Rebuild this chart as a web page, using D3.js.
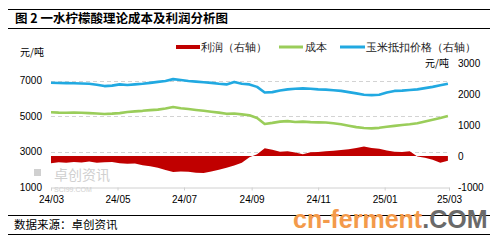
<!DOCTYPE html>
<html>
<head>
<meta charset="utf-8">
<style>
  body { margin: 0; background: #fff; }
  svg text { font-family: "Liberation Sans", Arial, sans-serif; }
  .cjk { font-family: "Noto Sans CJK SC", sans-serif; }
</style>
</head>
<body>
<svg id="chart" width="499" height="244"></svg>
<script src="https://d3js.org/d3.v7.min.js"></script>
<script>
// weekly dates
let dates = ["2024-03-01","2024-03-08","2024-03-15","2024-03-22","2024-03-29","2024-04-05","2024-04-12",
  "2024-04-19","2024-04-26","2024-05-03","2024-05-10","2024-05-17","2024-05-24","2024-05-31","2024-06-07",
  "2024-06-14","2024-06-21","2024-06-28","2024-07-05","2024-07-12","2024-07-19","2024-07-26","2024-08-02",
  "2024-08-09","2024-08-16","2024-08-23","2024-08-30","2024-09-06","2024-09-13","2024-09-20","2024-09-27",
  "2024-10-04","2024-10-11","2024-10-18","2024-10-25","2024-11-01","2024-11-08","2024-11-15","2024-11-22",
  "2024-11-29","2024-12-06","2024-12-13","2024-12-20","2024-12-27","2025-01-03","2025-01-10","2025-01-17",
  "2025-01-24","2025-01-31","2025-02-07","2025-02-14","2025-02-21","2025-02-28"]

// 利润 (right axis)
let profit = [-230,-200,-220,-190,-210,-180,-220,-200,-190,-230,-250,-240,-300,-330,-380,
  -450,-520,-500,-510,-540,-550,-500,-440,-380,-310,-220,-40,60,250,200,140,
  150,110,60,120,130,150,170,190,220,260,310,260,230,180,140,130,
  150,-20,-60,-120,-220,-150]

// 成本 (left axis)
let cost = [5220,5200,5190,5200,5190,5170,5150,5120,5140,5170,5230,5270,5300,5340,5370,
  5430,5520,5450,5400,5350,5300,5250,5200,5130,5150,5100,5050,4900,4560,4620,4690,
  4720,4670,4690,4660,4650,4640,4600,4540,4460,4380,4330,4310,4340,4400,4450,4500,
  4540,4600,4700,4800,4900,5010]

// 玉米抵扣价格 (right axis)
let corn = [2365,2355,2350,2345,2340,2330,2300,2255,2270,2310,2290,2310,2330,2360,2390,
  2420,2480,2450,2420,2400,2380,2360,2330,2310,2390,2330,2310,2230,2050,2060,2110,
  2150,2170,2180,2170,2150,2140,2120,2100,2060,2020,1975,1965,1975,2050,2100,2110,
  2130,2150,2190,2230,2280,2330]

let leftTicks = [1000, 3000, 5000, 7000]
let rightTicks = [-1000, 0, 1000, 2000, 3000]
let xTicks = ["2024-03-01","2024-05-01","2024-07-01","2024-09-01","2024-11-01","2025-01-01","2025-03-01"]

let parse = d3.timeParse("%Y-%m-%d")
let rows = dates.map((d, i) => ({date: parse(d), profit: profit[i], cost: cost[i], corn: corn[i]}))

let svg = d3.select('#chart')

let x = d3.scaleTime().domain([parse("2024-03-01"), parse("2025-03-01")]).range([51, 449])
let yL = d3.scaleLinear().domain([1000, 8000]).range([187, 63])
let yR = d3.scaleLinear().domain([-1000, 3000]).range([187, 63])

// title block
svg.append('line').attr('x1', 8).attr('x2', 490).attr('y1', 9.5).attr('y2', 9.5).attr('stroke', '#000').attr('stroke-width', 1.2)
svg.append('line').attr('x1', 8).attr('x2', 490).attr('y1', 28.5).attr('y2', 28.5).attr('stroke', '#000').attr('stroke-width', 1.2)
svg.append('text').attr('class', 'cjk').attr('x', 15).attr('y', 23)
  .attr('font-size', 12.5).attr('font-weight', 'bold').text('图 2  一水柠檬酸理论成本及利润分析图')

// gridlines (left axis)
svg.append('g').selectAll('line').data(leftTicks.filter(d => d > 1000)).join('line')
  .attr('x1', 51).attr('x2', 449)
  .attr('y1', d => Math.round(yL(d)) + 0.5).attr('y2', d => Math.round(yL(d)) + 0.5)
  .attr('stroke', '#c8c8c8').attr('stroke-dasharray', '4,3').attr('stroke-width', 0.8)

// watermark sci99
let wm = svg.append('g').attr('fill', '#d0d0d0')
wm.append('rect').attr('x', 34).attr('y', 169).attr('width', 7).attr('height', 7)
wm.append('text').attr('class', 'cjk').attr('x', 54).attr('y', 180).attr('font-size', 14).text('卓创资讯')
wm.append('text').attr('x', 54).attr('y', 192).attr('font-size', 7).attr('font-family', 'Liberation Serif').text('SCI99.COM')

// profit area
svg.append('path').datum(rows)
  .attr('fill', '#c00000')
  .attr('d', d3.area().x(d => x(d.date)).y0(yR(0)).y1(d => yR(d.profit)))

// lines
let lineCost = d3.line().x(d => x(d.date)).y(d => yL(d.cost))
let lineCorn = d3.line().x(d => x(d.date)).y(d => yR(d.corn))
svg.append('path').datum(rows).attr('fill', 'none').attr('stroke', '#9acd5a').attr('stroke-width', 2.6)
  .attr('stroke-linejoin', 'round').attr('d', lineCost)
svg.append('path').datum(rows).attr('fill', 'none').attr('stroke', '#21a9e1').attr('stroke-width', 2.6)
  .attr('stroke-linejoin', 'round').attr('d', lineCorn)

// x axis
let xAxis = d3.axisBottom(x).tickValues(xTicks.map(parse)).tickFormat(d3.timeFormat('%y/%m')).tickSize(3)
let gx = svg.append('g').attr('transform', 'translate(0,187.5)').call(xAxis)
gx.select('.domain').attr('stroke', '#d0d0d0')
gx.selectAll('.tick line').attr('stroke', '#d0d0d0')
gx.selectAll('.tick text').attr('font-family', 'DejaVu Sans').attr('font-size', 10).attr('fill', '#000').attr('dy', '0.95em')

// left axis
let gl = svg.append('g').attr('transform', 'translate(50,0)')
  .call(d3.axisLeft(yL).tickValues(leftTicks).tickSize(0).tickPadding(8).tickFormat(d3.format('d')))
gl.select('.domain').remove()
gl.selectAll('text').attr('font-size', 10).attr('fill', '#000').attr('font-family', 'Liberation Sans')
svg.append('text').attr('class', 'cjk').attr('x', 20).attr('y', 56).attr('font-size', 10).text('元/吨')

// right axis
let gr = svg.append('g').attr('transform', 'translate(450,0)')
  .call(d3.axisRight(yR).tickValues(rightTicks).tickSize(0).tickPadding(8).tickFormat(d3.format('d')))
gr.select('.domain').remove()
gr.selectAll('text').attr('font-size', 10).attr('fill', '#000').attr('font-family', 'Liberation Sans')
  .text(d => d < 0 ? '-' + Math.abs(d) : d)
svg.append('text').attr('class', 'cjk').attr('x', 425).attr('y', 67).attr('font-size', 10).text('元/吨')

// legend
let lg = svg.append('g').attr('class', 'cjk').attr('font-size', 10.5).attr('fill', '#222')
lg.append('rect').attr('x', 176).attr('y', 45).attr('width', 24).attr('height', 4).attr('fill', '#c00000')
lg.append('text').attr('x', 201).attr('y', 51).text('利润（右轴）')
lg.append('line').attr('x1', 279).attr('x2', 303).attr('y1', 47).attr('y2', 47).attr('stroke', '#9acd5a').attr('stroke-width', 3)
lg.append('text').attr('x', 305).attr('y', 51).text('成本')
lg.append('line').attr('x1', 340).attr('x2', 365).attr('y1', 47).attr('y2', 47).attr('stroke', '#21a9e1').attr('stroke-width', 3)
lg.append('text').attr('x', 366).attr('y', 51).text('玉米抵扣价格（右轴）')

// footer
svg.append('line').attr('x1', 8).attr('x2', 490).attr('y1', 215.5).attr('y2', 215.5).attr('stroke', '#000').attr('stroke-width', 1.2)
svg.append('line').attr('x1', 8).attr('x2', 490).attr('y1', 234.5).attr('y2', 234.5).attr('stroke', '#000').attr('stroke-width', 1.2)
svg.append('text').attr('class', 'cjk').attr('x', 14).attr('y', 229).attr('font-size', 11.5).text('数据来源：卓创资讯')

// cn-ferment watermark
let cw = svg.append('text').attr('x', 293).attr('y', 228).attr('font-size', 25).attr('font-weight', 'bold')
  .attr('font-family', 'Liberation Sans')
cw.append('tspan').attr('fill', '#f39a4b').text('cn-ferment')
cw.append('tspan').attr('fill', '#6a6a6a').text('.COM')
</script>
</body>
</html>
